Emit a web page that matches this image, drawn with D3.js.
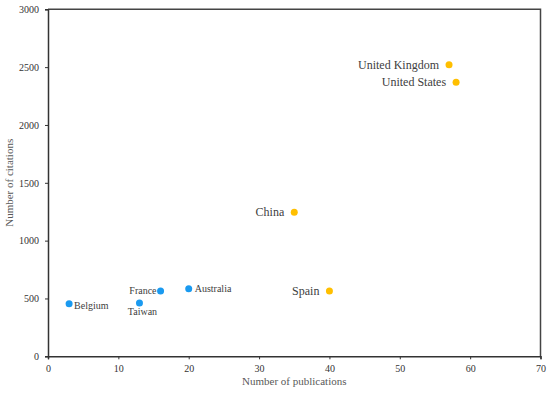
<!DOCTYPE html>
<html lang="en">
<head>
    <meta charset="UTF-8">
    <title>Publications vs Citations by Country</title>
    <script src="https://d3js.org/d3.v7.min.js"></script>
    <style>
        body { margin: 0; background: #fff; }
        svg text { font-family: "Liberation Serif", "Times New Roman", serif; }
        .tick text { font-size: 10px; fill: #333; }
        .tick line, .domain { stroke: #333; }
        .title { font-size: 11px; fill: #595959; }
    </style>
</head>
<body>
    <svg width="550" height="394"></svg>
    <script>
        // Data
        const countries = ["Belgium", "Taiwan", "France", "Australia", "China", "Spain", "United Kingdom", "United States"];
        const publications = [3, 13, 16, 20, 35, 40, 57, 58];
        const citations = [455, 460, 565, 585, 1245, 565, 2520, 2370];
        const group = ["minor", "minor", "minor", "minor", "major", "major", "major", "major"];
        const xTicks = [0, 10, 20, 30, 40, 50, 60, 70];
        const yTicks = [0, 500, 1000, 1500, 2000, 2500, 3000];

        const data = countries.map((c, i) => ({ country: c, pubs: publications[i], cites: citations[i], group: group[i] }));

        const svg = d3.select("svg");
        const margin = { top: 9.3, right: 9.5, bottom: 37.7, left: 48 };
        const width = +svg.attr("width") - margin.left - margin.right;
        const height = +svg.attr("height") - margin.top - margin.bottom;
        const serif = "'Liberation Serif', 'Times New Roman', serif";

        const g = svg.append("g")
            .attr("transform", `translate(${margin.left},${margin.top})`);

        const x = d3.scaleLinear().domain([0, 70]).range([0, width]);
        const y = d3.scaleLinear().domain([0, 3000]).range([height, 0]);
        const color = d3.scaleOrdinal().domain(["minor", "major"]).range(["#1a9af0", "#ffbf00"]);

        // frame (top and right)
        g.append("path")
            .attr("d", `M0,0H${width}V${height}`)
            .attr("fill", "none")
            .attr("stroke", "#444")
            .attr("stroke-width", 1.5);

        // axes
        g.append("g")
            .attr("transform", `translate(0,${height})`)
            .call(d3.axisBottom(x).tickValues(xTicks).tickFormat(d3.format("d")).tickSize(3).tickPadding(6))
            .attr("font-family", serif);
        g.append("g")
            .call(d3.axisLeft(y).tickValues(yTicks).tickFormat(d3.format("d")).tickSize(3).tickPadding(6))
            .attr("font-family", serif);
        g.selectAll(".domain").attr("stroke-width", 1.5);

        g.append("text")
            .attr("class", "title")
            .attr("x", width / 2)
            .attr("y", height + 29)
            .attr("text-anchor", "middle")
            .text("Number of publications");

        g.append("text")
            .attr("class", "title")
            .attr("transform", "rotate(-90)")
            .attr("x", -height / 2)
            .attr("y", -margin.left + 13)
            .attr("text-anchor", "middle")
            .text("Number of citations");

        // points
        g.selectAll("circle")
            .data(data)
            .enter().append("circle")
            .attr("cx", d => x(d.pubs))
            .attr("cy", d => y(d.cites))
            .attr("r", 3.5)
            .attr("fill", d => color(d.group));

        // label placement per country
        const place = {
            "Belgium": { dx: 5, dy: 5, anchor: "start" },
            "Taiwan": { dx: 3, dy: 12, anchor: "middle" },
            "France": { dx: -4, dy: 3, anchor: "end" },
            "Australia": { dx: 6, dy: 3, anchor: "start" },
            "China": { dx: -10, dy: 4, anchor: "end" },
            "Spain": { dx: -10, dy: 4, anchor: "end" },
            "United Kingdom": { dx: -10, dy: 4, anchor: "end" },
            "United States": { dx: -10, dy: 4, anchor: "end" }
        };

        g.selectAll(".label")
            .data(data)
            .enter().append("text")
            .attr("class", "label")
            .attr("x", d => x(d.pubs) + place[d.country].dx)
            .attr("y", d => y(d.cites) + place[d.country].dy)
            .attr("text-anchor", d => place[d.country].anchor)
            .attr("font-size", d => d.group === "major" ? "12px" : "10px")
            .attr("fill", "#404040")
            .text(d => d.country);
    </script>
</body>
</html>
